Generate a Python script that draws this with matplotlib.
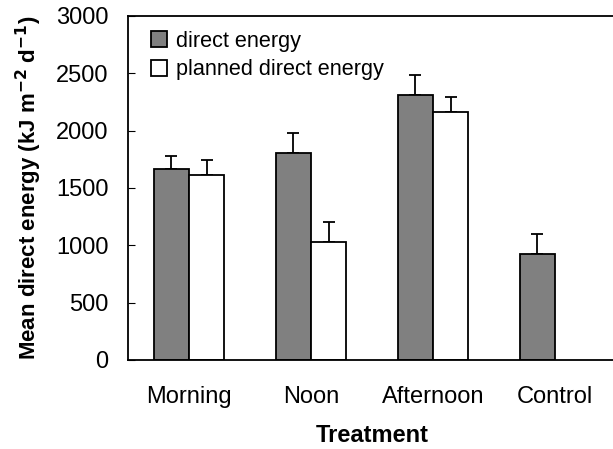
import numpy as np
import matplotlib
matplotlib.use("Agg")
import matplotlib.pyplot as plt

plt.rcParams['font.family'] = ['Liberation Sans', 'DejaVu Sans']

# data
treatments = ["Morning", "Noon", "Afternoon", "Control"]
direct = [1665, 1808, 2308, 924]
direct_err = [118, 175, 175, 172]
planned = [1610, 1030, 2165]
planned_err = [134, 172, 131]

fig = plt.figure(figsize=(6.13, 4.49), dpi=100)
ax = fig.add_axes([128 / 613, 1 - 360 / 449, 488 / 613, 344 / 449])

w = 0.29
x = np.arange(len(treatments))
ax.bar(x - w / 2, direct, w, color="#808080", edgecolor="black", linewidth=1.3,
       label="direct energy", zorder=2)
ax.errorbar(x - w / 2, direct, yerr=[np.zeros(len(direct)), direct_err], fmt="none",
            ecolor="black", elinewidth=1.3, capsize=4.5, capthick=1.3, zorder=1)
xp = np.arange(len(planned))
ax.bar(xp + w / 2, planned, w, color="white", edgecolor="black", linewidth=1.3,
       label="planned direct energy", zorder=2)
ax.errorbar(xp + w / 2, planned, yerr=[np.zeros(len(planned)), planned_err], fmt="none",
            ecolor="black", elinewidth=1.3, capsize=4.5, capthick=1.3, zorder=1)

ax.set_xlim(-0.5, 3.5)
ax.set_ylim(0, 3000)
ax.set_yticks(np.arange(0, 3001, 500))
ax.set_xticks(x)
ax.set_xticklabels(treatments)
ax.tick_params(axis="y", direction="in", length=5, labelsize=17, pad=14)
ax.tick_params(axis="x", length=0, labelsize=17, pad=19)
for s in ax.spines.values():
    s.set_linewidth(1.3)

ax.set_xlabel("Treatment", fontsize=17, fontweight="bold", labelpad=11)
ax.set_ylabel("Mean direct energy (kJ m$^{\\mathbf{-2}}$ d$^{\\mathbf{-1}}$)",
              fontsize=16, fontweight="bold", labelpad=9)

ax.legend(loc="upper left", frameon=False, fontsize=15.6, handlelength=0.75,
          handleheight=0.75, handletextpad=0.4, labelspacing=0.35,
          bbox_to_anchor=(0.02, 0.995), borderaxespad=0.2)

fig.savefig("out.png", dpi=100)
